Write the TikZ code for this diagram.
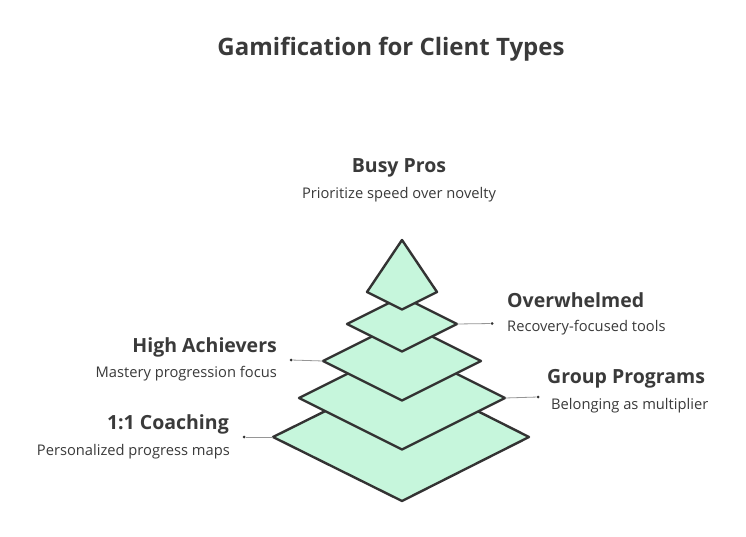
\documentclass[tikz,border=0pt]{standalone}
\usepackage{fontspec}
\setmainfont{Open Sans}
\definecolor{mint}{RGB}{198,246,220}
\definecolor{edge}{RGB}{51,51,51}
\definecolor{txt}{RGB}{58,58,58}
\definecolor{conn}{RGB}{150,150,150}
\tikzset{
  layer/.style={draw=edge, fill=mint, line width=2.4pt, line join=round},
  dotnode/.style={circle, fill=edge, inner sep=0pt, minimum size=3pt},
  conline/.style={draw=conn, line width=0.8pt},
  head/.style={font=\fontsize{19.5}{22}\selectfont\bfseries, text=txt, inner sep=0pt},
  sub/.style={font=\fontsize{14.7}{17}\selectfont, text=txt, inner sep=0pt},
}
\begin{document}
\begin{tikzpicture}[x=1pt,y=-1pt]
\useasboundingbox (0,0) rectangle (746,537);
\fill[white] (0,0) rectangle (746,537);

% layer 5 (bottom)
\coordinate (L5l) at (273,437); \coordinate (L5r) at (529,437);
\draw[layer] (402,373) -- (L5r) -- (402,501) -- (L5l) -- cycle;
% layer 4
\coordinate (L4l) at (299,398); \coordinate (L4r) at (505,398);
\draw[layer] (402,346.5) -- (L4r) -- (402,449.5) -- (L4l) -- cycle;
% layer 3
\coordinate (L3l) at (323,361); \coordinate (L3r) at (481,361);
\draw[layer] (402,321.5) -- (L3r) -- (402,400.5) -- (L3l) -- cycle;
% layer 2
\coordinate (L2l) at (347,324); \coordinate (L2r) at (457,324);
\draw[layer] (402,296.5) -- (L2r) -- (402,351.5) -- (L2l) -- cycle;
% top
\draw[layer] (402,240) -- (437,292) -- (402,309.5) -- (367,292) -- cycle;

% title
\node[font=\fontsize{24}{28}\selectfont\bfseries, text=txt, inner sep=0pt] (title) at (391,49) {Gamification for Client Types};

% Busy Pros
\node[head] (bp) at (399,168) {Busy Pros};
\node[sub] (bps) at (399,195) {Prioritize speed over novelty};

% Overwhelmed
\node[dotnode] (d2) at (492,323.5) {};
\draw[conline] (L2r) -- (d2);
\node[head, anchor=west] (ow) at (507,300) {Overwhelmed};
\node[sub, anchor=west] (ows) at (507,328) {Recovery-focused tools};

% High Achievers
\node[dotnode] (d3) at (291,360) {};
\draw[conline] (L3l) -- (d3);
\node[head, anchor=east] (ha) at (277,347) {High Achievers};
\node[sub, anchor=east] (has) at (277,374) {Mastery progression focus};

% Group Programs
\node[dotnode] (d4) at (538,397) {};
\draw[conline] (L4r) -- (d4);
\node[head, anchor=west] (gp) at (547,379) {Group Programs};
\node[sub, anchor=west] (gps) at (551,406) {Belonging as multiplier};

% 1:1 Coaching
\node[dotnode] (d5) at (244,437) {};
\draw[conline] (L5l) -- (d5);
\node[head, anchor=east] (cc) at (229,424) {1:1 Coaching};
\node[sub, anchor=east] (ccs) at (230,452) {Personalized progress maps};
\end{tikzpicture}
\end{document}
